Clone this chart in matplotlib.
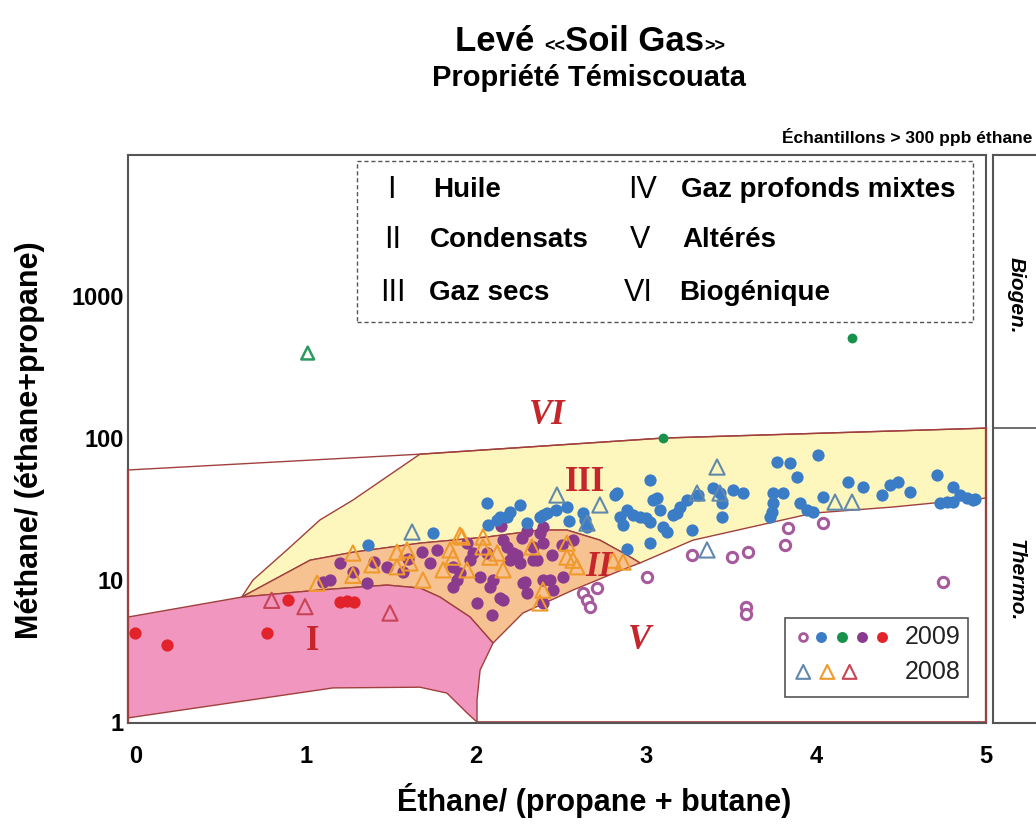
import matplotlib
matplotlib.use("Agg")
import matplotlib.pyplot as plt
from matplotlib.patches import Polygon, Rectangle

# ---------------- data ----------------
# Region boundaries (data coordinates: x = ethane/(propane+butane), y = methane/(ethane+propane))
region_I_x = [-0.047, 0.622, 1.082, 1.476, 1.671, 1.788, 1.965, 2.10, 2.024, 2.006, 2.006, 1.947, 1.829, 1.671, 1.159, -0.047]
region_I_y = [5.49, 7.59, 8.51, 9.22, 8.78, 7.59, 5.49, 3.60, 2.32, 1.43, 1.0, 1.16, 1.60, 1.76, 1.74, 1.07]

region_II_x = [0.622, 1.024, 1.276, 1.671, 2.065, 2.376, 2.535, 2.729, 2.888, 2.965, 2.829, 2.571, 2.276, 2.10, 1.965, 1.788, 1.671, 1.476, 1.082]
region_II_y = [7.59, 13.8, 15.7, 18.2, 20.1, 22.5, 22.5, 19.1, 15.0, 13.2, 11.4, 8.51, 5.86, 3.60, 5.49, 7.59, 8.78, 9.22, 8.51]

region_III_x = [0.622, 0.688, 0.888, 1.082, 1.276, 1.67, 3.1, 5.0, 5.0, 4.747, 4.453, 3.982, 3.671, 3.276, 2.965,
                2.888, 2.729, 2.535, 2.376, 2.065, 1.671, 1.276, 1.024]
region_III_y = [7.59, 10.0, 16.3, 26.5, 36.6, 77.0, 100.0, 117.5, 37.8, 35.4, 32.7, 29.6, 24.4, 19.1, 13.2,
                15.0, 19.1, 22.5, 22.5, 20.1, 18.2, 15.7, 13.8]

line_VI_x = [-0.047, 1.67, 3.1, 5.0]
line_VI_y = [59.6, 77.0, 100.0, 117.5]

# 2009 samples
blue_x = [1.365, 1.747, 2.065, 2.071, 2.124, 2.141, 2.182, 2.200, 2.259, 2.300, 2.376, 2.394, 2.418, 2.535,
          2.629, 2.641, 2.653, 2.818, 2.829, 2.847, 2.865, 2.888, 2.888, 2.924, 2.965, 3.000, 3.024, 3.024,
          3.024, 3.041, 3.065, 3.082, 3.100, 3.124, 3.159, 3.182, 3.200, 3.241, 3.271, 3.306, 3.394, 3.435,
          3.447, 3.447, 3.512, 3.571, 3.729, 3.741, 3.747, 3.747, 3.771, 3.806, 3.847, 3.888, 3.906, 3.947,
          3.982, 4.012, 4.041, 4.188, 4.276, 4.388, 4.435, 4.482, 4.553, 4.712, 4.729, 4.771, 4.806, 4.806,
          4.847, 4.888, 4.924, 4.935, 2.470, 2.550]
blue_y = [17.6, 21.4, 34.9, 24.4, 26.5, 27.8, 27.8, 30.1, 33.8, 25.2, 27.8, 28.7, 29.6, 32.7,
          29.6, 26.5, 23.6, 39.7, 41.0, 27.8, 24.4, 31.1, 16.5, 28.7, 27.8, 27.3, 50.6, 25.6,
          18.2, 36.6, 37.8, 31.1, 23.6, 21.8, 28.7, 29.6, 32.7, 36.6, 22.5, 39.7, 44.5, 41.0,
          34.9, 27.8, 43.0, 41.0, 27.8, 30.1, 34.9, 41.0, 67.8, 41.0, 66.7, 53.1, 34.9, 31.1,
          30.1, 75.9, 38.4, 49.0, 45.2, 39.7, 46.7, 49.0, 41.7, 54.9, 34.9, 35.4, 45.2, 35.4,
          39.7, 37.8, 36.6, 37.2, 31.0, 26.0]

purple_x = [1.100, 1.141, 1.200, 1.276, 1.359, 1.476, 1.571, 1.682, 1.729, 1.771, 1.865, 1.865, 1.888, 1.906,
            1.947, 1.965, 1.982, 2.006, 2.024, 2.065, 2.082, 2.094, 2.100, 2.141, 2.159, 2.159, 2.182, 2.200,
            2.218, 2.241, 2.259, 2.271, 2.276, 2.288, 2.300, 2.335, 2.335, 2.359, 2.376, 2.394, 2.394, 2.394,
            2.394, 2.435, 2.453, 2.506, 2.512, 2.571, 2.150, 2.300, 1.600, 1.400, 2.450]
purple_y = [9.7, 10.0, 13.2, 11.4, 9.5, 12.4, 11.4, 15.7, 13.2, 16.3, 12.4, 8.9, 10.0, 11.2,
            18.2, 13.8, 15.5, 6.9, 10.5, 15.5, 8.9, 5.67, 10.0, 7.47, 19.1, 7.2, 17.1, 13.8,
            15.5, 15.0, 13.2, 19.8, 9.5, 9.7, 8.1, 17.1, 13.8, 13.8, 21.4, 18.2, 10.0, 23.6,
            6.9, 10.0, 8.5, 17.6, 10.5, 19.1, 24.0, 22.0, 14.0, 13.5, 15.0]

open_x = [2.629, 2.712, 2.653, 2.671, 3.006, 3.271, 3.506, 3.600, 3.818, 3.835, 4.041, 4.747, 3.588, 3.588]
open_y = [8.1, 8.8, 7.2, 6.45, 10.5, 15.0, 14.5, 15.7, 17.6, 23.2, 25.2, 9.68, 6.45, 5.77]

green_x = [3.10, 4.21]
green_y = [100.0, 504.0]

red_x = [-0.006, 0.18, 0.769, 0.894, 1.20, 1.24, 1.28]
red_y = [4.24, 3.48, 4.25, 7.2, 7.0, 7.1, 7.0]

# 2008 samples
tri_blue_x = [1.624, 2.476, 2.653, 2.729, 3.300, 3.435, 3.418, 3.359, 4.112, 4.212]
tri_blue_y = [21.8, 39.7, 25.2, 33.8, 41.0, 41.0, 62.5, 16.3, 35.4, 35.4]

tri_orange_x = [1.065, 1.276, 1.276, 1.388, 1.535, 1.535, 1.594, 1.612, 1.688, 1.806, 1.847, 1.865, 1.918,
                1.947, 2.041, 2.082, 2.124, 2.159, 2.329, 2.041, 2.535, 2.535, 2.571, 2.594, 2.806, 2.865,
                2.394, 2.376, 1.906]
tri_orange_y = [9.5, 15.5, 10.8, 12.8, 15.7, 12.4, 16.3, 13.2, 10.0, 11.8, 16.3, 14.5, 20.1,
                11.8, 17.1, 14.5, 15.5, 11.8, 17.1, 20.1, 18.2, 14.5, 13.8, 12.4, 13.8, 13.4,
                8.5, 6.9, 20.7]

tri_red_x = [0.798, 0.994, 1.494]
tri_red_y = [7.2, 6.5, 5.86]

tri_green_x = [1.01]
tri_green_y = [397.0]

x_ticks = [0, 1, 2, 3, 4, 5]
y_ticks = [1, 10, 100, 1000]
y_tick_labels = ["1", "10", "100", "1000"]

region_labels = ["I", "II", "III", "V", "VI"]
region_label_x = [1.04, 2.72, 2.64, 2.96, 2.42]
region_label_y = [3.72, 12.3, 49.0, 3.78, 145.0]
region_label_italic = [False, True, False, True, True]

legend_numerals = ["I", "II", "III", "IV", "V", "VI"]
legend_names = ["Huile", "Condensats", "Gaz secs", "Gaz profonds mixtes", "Altérés", "Biogénique"]

# ---------------- style ----------------
W, H = 1036, 825
SANS = ["Liberation Sans", "DejaVu Sans"]
SERIF = ["Liberation Serif", "DejaVu Serif"]
plt.rcParams["font.family"] = SANS

C_PINK = "#f197bf"
C_ORANGE = "#f7c291"
C_YELLOW = "#fef7bd"
C_LINE = "#a0403e"
C_LABEL = "#c4262b"
C_BLUE = "#3b7cc6"
C_PURPLE = "#8a3b8e"
C_GREEN = "#17914c"
C_RED = "#e2232b"
C_OPEN = "#a65a9c"
C_TBLUE = "#6189ad"
C_TORANGE = "#f0992c"
C_TRED = "#c94456"
C_TGREEN = "#2d9a60"
C_FRAME = "#555555"


def fx(px):
    return px / W


def fy(py):
    return 1 - py / H


fig = plt.figure(figsize=(W / 100, H / 100), dpi=100)
ax = fig.add_axes([fx(128), fy(723), (986 - 128) / W, (723 - 155) / H])
ax.set_yscale("log")
ax.set_xlim(-0.047, 5.0)
ax.set_ylim(0.985, 9850)

# regions
ax.add_patch(Polygon(list(zip(region_III_x, region_III_y)), closed=True, fc=C_YELLOW, ec=C_LINE, lw=1.0, zorder=1))
ax.add_patch(Polygon(list(zip(region_II_x, region_II_y)), closed=True, fc=C_ORANGE, ec=C_LINE, lw=1.0, zorder=1.1))
ax.add_patch(Polygon(list(zip(region_I_x, region_I_y)), closed=True, fc=C_PINK, ec=C_LINE, lw=1.0, zorder=1.2))
ax.plot(line_VI_x, line_VI_y, color=C_LINE, lw=1.0, zorder=1.5)
ax.plot([-0.047, -0.047], [1.0, line_VI_y[0]], color=C_LINE, lw=1.6, zorder=5, clip_on=False)
ax.plot([5.0, 5.0], [1.0, line_VI_y[-1]], color=C_LINE, lw=1.6, zorder=5, clip_on=False)
ax.plot([2.006, 5.0], [1.0, 1.0], color=C_LINE, lw=1.2, zorder=1.5)

for lab, lx, ly, it in zip(region_labels, region_label_x, region_label_y, region_label_italic):
    ax.text(lx, ly, lab, color=C_LABEL, fontsize=25, fontweight="bold",
            fontstyle="italic" if it else "normal", family=SERIF,
            ha="center", va="center", zorder=6)

# points
ms = 78
ax.scatter(purple_x, purple_y, s=ms, color=C_PURPLE, lw=0, zorder=3)
ax.scatter(tri_orange_x, tri_orange_y, s=120, marker="^", facecolors="none", edgecolors=C_TORANGE, lw=1.5, zorder=3.5)
ax.scatter(blue_x, blue_y, s=ms, color=C_BLUE, lw=0, zorder=3.2)
ax.scatter(tri_blue_x, tri_blue_y, s=120, marker="^", facecolors="none", edgecolors=C_TBLUE, lw=1.5, zorder=3.6)
ax.scatter(open_x, open_y, s=55, marker="o", facecolors="white", edgecolors=C_OPEN, lw=2.2, zorder=3.4)
ax.scatter(green_x, green_y, s=50, color=C_GREEN, lw=0, zorder=3.4)
ax.scatter(red_x, red_y, s=ms, color=C_RED, lw=0, zorder=3.4)
ax.scatter(tri_red_x, tri_red_y, s=120, marker="^", facecolors="none", edgecolors=C_TRED, lw=1.5, zorder=3.6)
ax.scatter(tri_green_x, tri_green_y, s=85, marker="^", facecolors="none", edgecolors=C_TGREEN, lw=1.8, zorder=3.6)

# axes styling
ax.set_xticks(x_ticks)
ax.set_xticklabels([str(t) for t in x_ticks])
ax.set_yticks(y_ticks)
ax.set_yticklabels(y_tick_labels)
ax.minorticks_off()
ax.tick_params(axis="both", length=0, labelsize=17)
ax.tick_params(axis="x", pad=16)
ax.tick_params(axis="y", pad=3)
for lbl in ax.get_xticklabels() + ax.get_yticklabels():
    lbl.set_fontweight("bold")
for sp in ax.spines.values():
    sp.set_color(C_FRAME)
    sp.set_linewidth(1.5)

fig.text(fx(594), fy(800), "Éthane/ (propane + butane)", fontsize=22, fontweight="bold",
         ha="center", va="center")
fig.text(fx(30), fy(440), "Méthane/ (éthane+propane)", fontsize=22, fontweight="bold",
         ha="center", va="center", rotation=90)

# right panel
axr = fig.add_axes([fx(993), fy(723), (1080 - 993) / W, (723 - 155) / H])
axr.set_yscale("log")
axr.set_ylim(0.985, 9850)
axr.set_xlim(0, 1)
axr.set_xticks([])
axr.set_yticks([])
axr.minorticks_off()
for sp in axr.spines.values():
    sp.set_color(C_FRAME)
    sp.set_linewidth(1.5)
axr.axhline(line_VI_y[-1], color=C_FRAME, lw=1.2)
fig.text(fx(1016), fy(295), "Biogen.", fontsize=15, fontweight="bold", fontstyle="italic",
         rotation=270, ha="center", va="center")
fig.text(fx(1016), fy(580), "Thermo.", fontsize=15, fontweight="bold", fontstyle="italic",
         rotation=270, ha="center", va="center")

# dashed legend box
fig.patches.append(Rectangle((fx(357), fy(322)), (973 - 357) / W, (322 - 161) / H,
                             transform=fig.transFigure, fill=False, ec=C_FRAME, lw=1.0,
                             ls=(0, (3, 2)), zorder=10))
num_x = [391, 393, 393, 643, 640, 638]
name_x = [433, 430, 429, 681, 682, 679]
row_y = [190, 240, 293, 190, 240, 293]
for num, name, nx, tx, ry in zip(legend_numerals, legend_names, num_x, name_x, row_y):
    fig.text(fx(nx), fy(ry), num, fontsize=22, ha="center", va="center", family=SANS, fontweight="light")
    fig.text(fx(tx), fy(ry), name, fontsize=20, fontweight="bold", ha="left", va="center")

# year legend
ax.add_patch(Rectangle((0.766, 0.046), 0.213, 0.139, transform=ax.transAxes, fill=False,
                       ec=C_FRAME, lw=1.2, zorder=7))
row1 = 0.151
row2 = 0.090
leg1_x = [0.787, 0.808, 0.832, 0.855, 0.879]
leg1_c = [C_OPEN, C_BLUE, C_GREEN, C_PURPLE, C_RED]
for i, (lx, lc) in enumerate(zip(leg1_x, leg1_c)):
    if i == 0:
        ax.scatter([lx], [row1], s=32, marker="o", facecolors="white", edgecolors=lc, lw=2,
                   transform=ax.transAxes, zorder=8, clip_on=False)
    else:
        ax.scatter([lx], [row1], s=62, color=lc, lw=0, transform=ax.transAxes, zorder=8, clip_on=False)
leg2_x = [0.787, 0.815, 0.841]
leg2_c = [C_TBLUE, C_TORANGE, C_TRED]
for lx, lc in zip(leg2_x, leg2_c):
    ax.scatter([lx], [row2], s=100, marker="^", facecolors="none", edgecolors=lc, lw=1.5,
               transform=ax.transAxes, zorder=8, clip_on=False)
ax.text(0.970, row1, "2009", transform=ax.transAxes, fontsize=18, ha="right", va="center", color="#222222", zorder=8)
ax.text(0.970, row2, "2008", transform=ax.transAxes, fontsize=18, ha="right", va="center", color="#222222", zorder=8)

# titles
renderer = fig.canvas.get_renderer()
parts = [("Levé ", 25), ("<<", 13), ("Soil Gas", 25), (">>", 13)]
texts = []
widths = []
for s, sz in parts:
    t = fig.text(0, fy(51), s, fontsize=sz, fontweight="bold", ha="left", va="baseline")
    texts.append(t)
    widths.append(t.get_window_extent(renderer).width)
total = sum(widths)
x0 = 590 - total / 2
for t, w in zip(texts, widths):
    t.set_x(fx(x0))
    x0 += w
fig.text(fx(589), fy(78), "Propriété Témiscouata", fontsize=21, fontweight="bold",
         ha="center", va="center")
fig.text(fx(1032), fy(137), "Échantillons > 300 ppb éthane", fontsize=12.5, fontweight="bold",
         ha="right", va="center")

fig.savefig("out.png", dpi=100)
